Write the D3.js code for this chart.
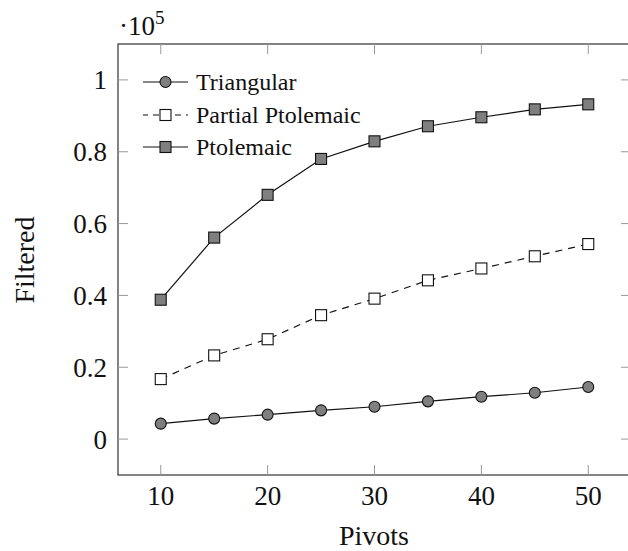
<!DOCTYPE html>
<html>
<head>
<meta charset="utf-8">
<script src="https://cdn.jsdelivr.net/npm/d3@7"></script>
<style>
  body { margin: 0; background: #fff; }
</style>
</head>
<body>
<div id="chart"></div>
<script>
// data (values in units of 1e5)
var pivots = [10, 15, 20, 25, 30, 35, 40, 45, 50];
var triangular = [0.043, 0.057, 0.068, 0.080, 0.090, 0.105, 0.118, 0.129, 0.145];
var partialPtolemaic = [0.167, 0.233, 0.278, 0.345, 0.391, 0.442, 0.475, 0.509, 0.543];
var ptolemaic = [0.388, 0.561, 0.680, 0.780, 0.829, 0.871, 0.896, 0.918, 0.932];
var xTicks = [10, 20, 30, 40, 50];
var yTicks = [0, 0.2, 0.4, 0.6, 0.8, 1];
var seriesNames = ["Triangular", "Partial Ptolemaic", "Ptolemaic"];

var W = 628, H = 551;
var margin = { top: 44, right: -3, bottom: 76, left: 118 };
var width = W - margin.left - margin.right,
    height = H - margin.top - margin.bottom;

var svg = d3.select("#chart").append("svg")
    .attr("width", W)
    .attr("height", H)
    .attr("font-family", "'Liberation Serif', 'DejaVu Serif', Times, serif")
    .style("font-family", "'Liberation Serif', 'DejaVu Serif', Times, serif");

var g = svg.append("g")
    .attr("transform", "translate(" + margin.left + "," + margin.top + ")");

var x = d3.scaleLinear().domain([6, 54]).range([0, width]);
var y = d3.scaleLinear().domain([-0.1, 1.1]).range([height, 0]);

// frame
g.append("rect")
    .attr("width", width)
    .attr("height", height)
    .attr("fill", "none")
    .attr("stroke", "#333")
    .attr("stroke-width", 1.2);

// ticks, drawn inward on both sides like pgfplots
var tickLen = 10;
xTicks.forEach(function (t) {
    g.append("line").attr("x1", x(t)).attr("x2", x(t)).attr("y1", height).attr("y2", height - tickLen)
        .attr("stroke", "#999").attr("stroke-width", 1);
    g.append("line").attr("x1", x(t)).attr("x2", x(t)).attr("y1", 0).attr("y2", tickLen)
        .attr("stroke", "#999").attr("stroke-width", 1);
    g.append("text").attr("x", x(t)).attr("y", height + 30)
        .attr("text-anchor", "middle").attr("font-size", 27).attr("fill", "#111").text(t);
});
yTicks.forEach(function (t) {
    g.append("line").attr("x1", 0).attr("x2", tickLen).attr("y1", y(t)).attr("y2", y(t))
        .attr("stroke", "#999").attr("stroke-width", 1);
    g.append("line").attr("x1", width).attr("x2", width - tickLen).attr("y1", y(t)).attr("y2", y(t))
        .attr("stroke", "#999").attr("stroke-width", 1);
    g.append("text").attr("x", -11).attr("y", y(t)).attr("dy", "0.35em")
        .attr("text-anchor", "end").attr("font-size", 27).attr("fill", "#111").text(t);
});

// scale factor label
var sc = svg.append("text").attr("x", 119).attr("y", 35).attr("font-size", 27).attr("fill", "#111");
sc.append("tspan").text("\u00b710");
sc.append("tspan").attr("font-size", 19).attr("dy", -11).text("5");

// axis labels
svg.append("text").attr("x", 374).attr("y", 545).attr("fill", "#111")
    .attr("text-anchor", "middle").attr("font-size", 28).text("Pivots");
svg.append("text").attr("fill", "#111")
    .attr("transform", "translate(34,260) rotate(-90)")
    .attr("text-anchor", "middle").attr("font-size", 28).text("Filtered");

var line = d3.line()
    .x(function (d, i) { return x(pivots[i]); })
    .y(function (d) { return y(d); });

var styles = [
    { data: triangular, dash: null, mark: "circle", fill: "#7f7f7f" },
    { data: partialPtolemaic, dash: "7,6", mark: "square", fill: "#fff" },
    { data: ptolemaic, dash: null, mark: "square", fill: "#7f7f7f" }
];

function drawMark(sel, type, cx, cy, fill) {
    if (type === "circle") {
        sel.append("circle").attr("cx", cx).attr("cy", cy).attr("r", 5.5)
            .attr("fill", fill).attr("stroke", "#111").attr("stroke-width", 1.1);
    } else {
        sel.append("rect").attr("x", cx - 5.5).attr("y", cy - 5.5)
            .attr("width", 11).attr("height", 11)
            .attr("fill", fill).attr("stroke", "#111").attr("stroke-width", 1.1);
    }
}

styles.forEach(function (s) {
    g.append("path")
        .datum(s.data)
        .attr("d", line)
        .attr("fill", "none")
        .attr("stroke", "#111")
        .attr("stroke-width", 1.2)
        .attr("stroke-dasharray", s.dash);
    s.data.forEach(function (v, i) {
        drawMark(g, s.mark, x(pivots[i]), y(v), s.fill);
    });
});

// legend (no border)
var legendY = [82, 115, 147];
seriesNames.forEach(function (name, i) {
    var s = styles[i], ly = legendY[i];
    svg.append("line").attr("x1", 143).attr("x2", 188).attr("y1", ly).attr("y2", ly)
        .attr("stroke", "#111").attr("stroke-width", 1.2)
        .attr("stroke-dasharray", s.dash ? "6,5" : null)
        .attr("stroke-dashoffset", s.dash ? 1 : null);
    drawMark(svg, s.mark, 165.5, ly, s.fill);
    svg.append("text").attr("x", 196).attr("y", ly).attr("dy", "0.33em")
        .attr("fill", "#111").attr("font-size", 24).text(name);
});
</script>
</body>
</html>
